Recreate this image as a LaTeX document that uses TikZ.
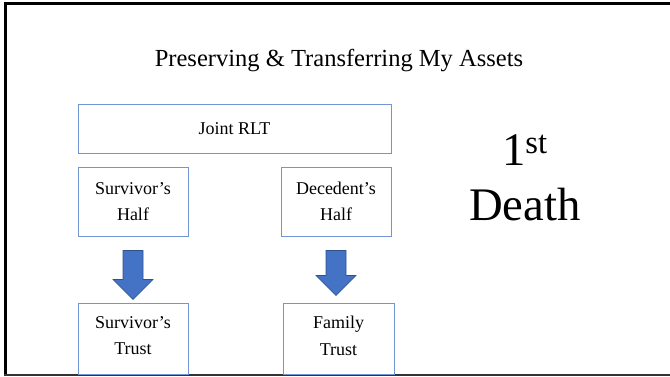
\documentclass[tikz,border=0pt]{standalone}
\usepackage{fontspec}
\setmainfont{Liberation Serif}
\definecolor{boxblue}{RGB}{68,114,196}
\definecolor{arrowedge}{RGB}{47,82,143}

\begin{document}
\begin{tikzpicture}[x=0.75pt,y=-0.75pt,
    box/.style={draw=boxblue!75, line width=0.75pt, align=center, inner sep=0pt,
      minimum width=110*0.75pt, minimum height=69*0.75pt,
      font=\fontsize{13.5}{20}\selectfont},
    blockarrow/.style={fill=boxblue, draw=arrowedge, line width=0.4pt}]
  \useasboundingbox (0,0) rectangle (670,376);

  % frame
  \draw[line width=2.25pt] (5.5,376) -- (5.5,3.5) -- (670,3.5);
  \draw[line width=1pt, black!80] (4,375) -- (670,375);

  \node[anchor=base, font=\fontsize{18.4}{22}\selectfont] (title) at (339,66) {Preserving \& Transferring My Assets};

  \node[box, minimum width=313*0.75pt, minimum height=49*0.75pt] (joint) at (234.5,128.5) {Joint RLT};
  \node[box] (shalf) at (133,201.5) {Survivor’s\\Half};
  \node[box] (dhalf) at (336,201.5) {Decedent’s\\Half};
  \node[box, minimum height=71*0.75pt] (strust) at (133,338.5) {Survivor’s\\Trust\\[-15.5pt]};
  \node[box, minimum width=111*0.75pt, minimum height=71*0.75pt] (ftrust) at (338.5,338.5) {Family\\Trust\\[-15.5pt]};

  % block arrows
  \foreach \from/\base/\tip in {shalf/43/63, dhalf/39/59}
    \draw[blockarrow, shift={(\from.south)}] (-10,14) -- (10,14) -- (10,\base) -- (20,\base)
      -- (0,\tip) -- (-20,\base) -- (-10,\base) -- cycle;

  \node[align=center, font=\fontsize{35}{41}\selectfont] (death) at (525,178) {1\textsuperscript{st}\\Death};
\end{tikzpicture}
\end{document}
